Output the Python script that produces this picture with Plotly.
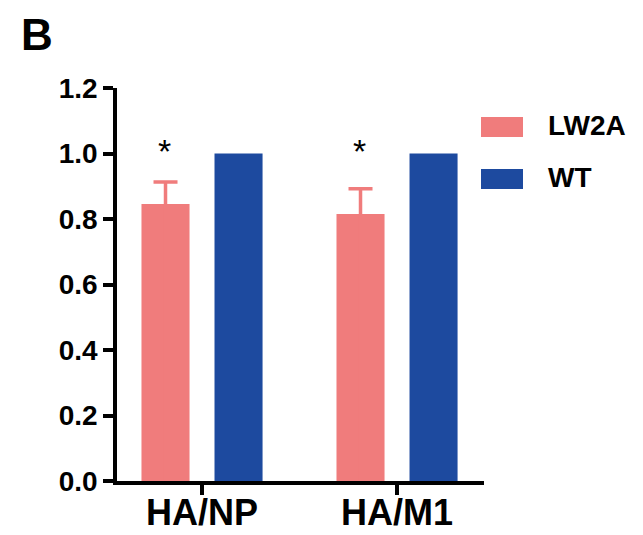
import plotly.graph_objects as go

categories = ["HA/NP", "HA/M1"]
series_names = ["LW2A", "WT"]
lw2a_values = [0.846, 0.815]
lw2a_errors = [0.067, 0.077]
wt_values = [1.0, 1.0]
significance = ["*", "*"]
y_ticks = [0.0, 0.2, 0.4, 0.6, 0.8, 1.0, 1.2]

c_lw2a = "#F07C7C"
c_wt = "#1D4A9F"
FONT = "Liberation Sans, Arial, sans-serif"

fig = go.Figure()
fig.add_trace(go.Bar(
    x=categories, y=lw2a_values, name=series_names[0],
    marker=dict(color=c_lw2a, line=dict(width=0)),
    error_y=dict(type="data", array=lw2a_errors, arrayminus=lw2a_values, symmetric=False,
                 color=c_lw2a, thickness=3.5, width=12),
    showlegend=False,
))
fig.add_trace(go.Bar(
    x=categories, y=wt_values, name=series_names[1],
    marker=dict(color=c_wt, line=dict(width=0)),
    showlegend=False,
))

W, H = 643, 535
ml, mr, mt, mb = 117, 159, 88, 54
pw = W - ml - mr
ph = H - mt - mb


def px_x(x):
    return (x - ml) / pw


def px_y(y):
    return 1 - (y - mt) / ph


fig.update_layout(
    width=W, height=H,
    margin=dict(l=ml, r=mr, t=mt, b=mb, pad=0),
    paper_bgcolor="white", plot_bgcolor="white",
    barmode="group", bargap=0.251, bargroupgap=0.342,
    font=dict(family=FONT, color="black"),
)
fig.update_xaxes(
    range=[-0.436, 1.446], showline=True, linecolor="black", linewidth=3.5,
    ticks="outside", ticklen=10, tickwidth=3.5, tickcolor="black",
    tickfont=dict(size=36, family=FONT, weight="bold"),
    ticklabelstandoff=-13,
    showgrid=False, zeroline=False, fixedrange=True, automargin=False,
)
fig.update_yaxes(
    range=[0, 1.2], tickvals=y_ticks, tickformat=".1f",
    showline=True, linecolor="black", linewidth=3.5,
    ticks="outside", ticklen=10, tickwidth=3.5, tickcolor="black",
    tickfont=dict(size=28, family=FONT, weight="bold"),
    showgrid=False, zeroline=False, fixedrange=True, automargin=False,
)

# extend x axis line left to the tick end (like the original)
fig.add_shape(type="line", xref="paper", yref="paper",
              x0=-11 / pw, x1=0, y0=0, y1=0,
              line=dict(color="black", width=3.5))

# significance marks above LW2A bars
for i, s in enumerate(significance):
    fig.add_annotation(x=i - 0.19, y=0.945, text=s, showarrow=False,
                       xref="x", yref="y", yanchor="bottom",
                       font=dict(size=34, family=FONT, color="black"))

# custom legend
leg_colors = [c_lw2a, c_wt]
for k, (nm, col) in enumerate(zip(series_names, leg_colors)):
    y_top = 117 + k * 52
    fig.add_shape(type="rect", xref="paper", yref="paper",
                  x0=px_x(481), x1=px_x(523),
                  y0=px_y(y_top), y1=px_y(y_top + 20),
                  fillcolor=col, line=dict(width=0))
    fig.add_annotation(x=px_x(546), y=px_y(y_top + 8),
                       xref="paper", yref="paper", text=nm, showarrow=False,
                       xanchor="left", yanchor="middle",
                       font=dict(size=28, family=FONT, weight="bold", color="black"))

# panel label
fig.add_annotation(x=px_x(19), y=px_y(34), xref="paper", yref="paper",
                   text="B", showarrow=False, xanchor="left", yanchor="middle",
                   font=dict(size=44, family=FONT, weight="bold", color="black"))

fig.write_html("out.html")
